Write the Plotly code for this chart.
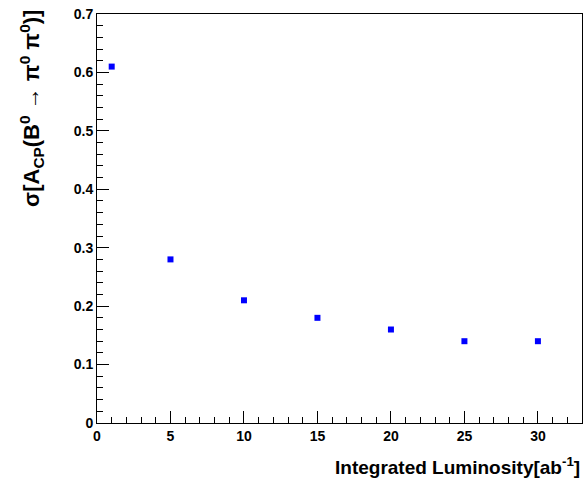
import plotly.graph_objects as go

lumi = [1, 5, 10, 15, 20, 25, 30]
sigma = [0.61, 0.28, 0.21, 0.18, 0.16, 0.14, 0.14]
y_ticks = [0, 0.1, 0.2, 0.3, 0.4, 0.5, 0.6, 0.7]
y_labels = ["0", "0.1", "0.2", "0.3", "0.4", "0.5", "0.6", "0.7"]

fig = go.Figure()
fig.add_trace(go.Scatter(x=lumi, y=sigma, mode="markers",
                         marker=dict(symbol="square", size=6, color="#0000ff")))

axis = dict(showgrid=False, zeroline=False, showline=True, linecolor="black",
            linewidth=1, mirror=True, ticks="inside", ticklen=12,
            tickcolor="black", automargin=False,
            tickfont=dict(family="Liberation Sans", size=14, color="black",
                          weight="bold"))
fig.update_xaxes(**axis, range=[0, 33], tickvals=[0, 5, 10, 15, 20, 25, 30],
                 minor=dict(ticks="inside", ticklen=6, dtick=1, tickcolor="black"))
fig.update_yaxes(**axis, range=[0, 0.7], tickvals=y_ticks, ticktext=y_labels,
                 minor=dict(ticks="inside", ticklen=6, dtick=0.02, tickcolor="black"))

fig.update_layout(
    width=583, height=484, plot_bgcolor="white", paper_bgcolor="white",
    margin=dict(l=97, r=1, t=14, b=61), showlegend=False,
    font=dict(family="Liberation Sans", size=14, color="black"),
    annotations=[
        dict(text="<b>Integrated Luminosity[ab<sup>-1</sup>]</b>", xref="paper",
             yref="paper", x=1.0, y=-0.07, xanchor="right", yanchor="top",
             showarrow=False, font=dict(family="Liberation Sans", size=19)),
        dict(text="<b>σ[A<sub>CP</sub>(B<sup>0</sup> → π<sup>0</sup> π<sup>0</sup>)]</b>",
             xref="paper", yref="paper", x=-0.135, y=1.015, xanchor="center",
             yanchor="top", textangle=-90, showarrow=False,
             font=dict(family="Liberation Sans", size=22)),
    ],
)
fig.write_html("out.html", config={"displayModeBar": False},
               post_script="document.body.style.margin='0';")
